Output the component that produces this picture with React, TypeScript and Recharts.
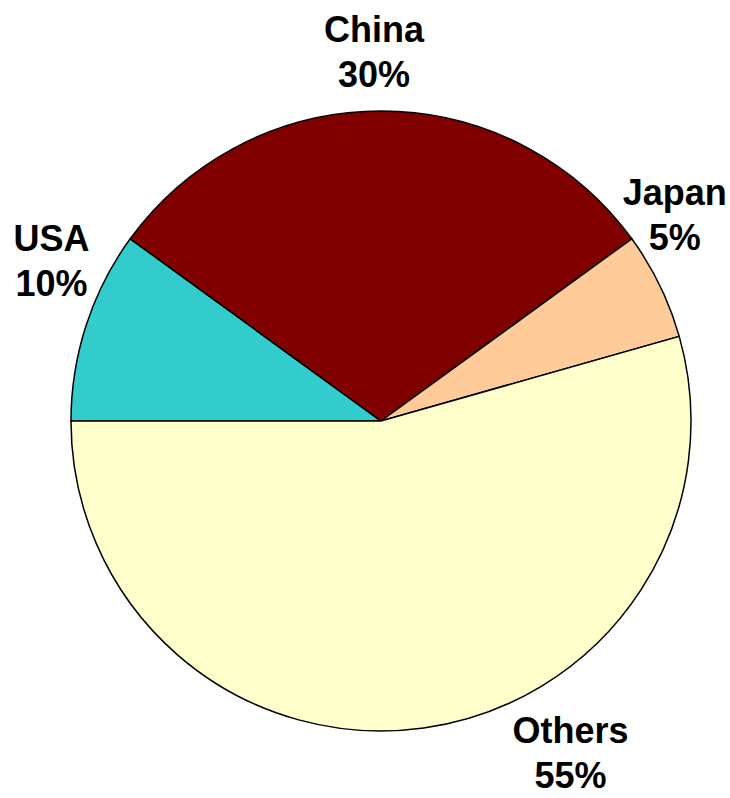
import { PieChart, Pie, Cell } from 'recharts';

const COUNTRIES = ['USA', 'China', 'Japan', 'Others'];
const SHARES = [10, 30, 5.6, 54.4];
const SHARE_LABELS = ['10%', '30%', '5%', '55%'];

const COLORS = ['#33cccc', '#800000', '#ffcc99', '#ffffcc'];
// hand-placed label nudges (px), like the original slide
const LABEL_NUDGE = [
  [13, -49],
  [-7, -9],
  [-30, -49],
  [140, -25],
];

const data = COUNTRIES.map((name, i) => ({ name, value: SHARES[i], pct: SHARE_LABELS[i] }));

const RAD = Math.PI / 180;

function renderLabel(props: any) {
  const { cx, cy, midAngle, outerRadius, index } = props;
  const r = outerRadius + 50;
  const x = cx + r * Math.cos(-midAngle * RAD) + LABEL_NUDGE[index][0];
  const y = cy + r * Math.sin(-midAngle * RAD) + LABEL_NUDGE[index][1];
  return (
    <text
      x={x}
      y={y}
      textAnchor="middle"
      fontFamily="'Liberation Sans', Arial, sans-serif"
      fontWeight="bold"
      fontSize={36}
      fill="#000"
    >
      <tspan x={x} y={y - 10}>{data[index].name}</tspan>
      <tspan x={x} y={y + 35}>{data[index].pct}</tspan>
    </text>
  );
}

export default function App() {
  return (
    <div style={{ position: 'absolute', left: 0, top: 0, width: 730, height: 798, background: '#fff' }}>
      <PieChart width={730} height={798} margin={{ top: 0, right: 0, bottom: 0, left: 0 }}>
        <Pie
          data={data}
          dataKey="value"
          nameKey="name"
          cx={381}
          cy={421}
          outerRadius={310}
          startAngle={180}
          endAngle={-180}
          stroke="#000"
          strokeWidth={1.5}
          label={renderLabel}
          labelLine={false}
          isAnimationActive={false}
        >
          {data.map((_, i) => (
            <Cell key={i} fill={COLORS[i]} />
          ))}
        </Pie>
      </PieChart>
    </div>
  );
}
